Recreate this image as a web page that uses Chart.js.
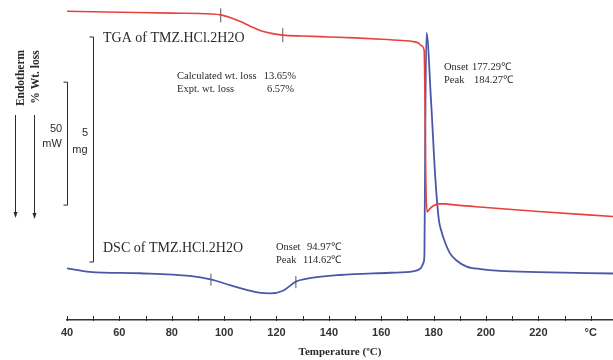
<!DOCTYPE html>
<html><head><meta charset="utf-8">
<script src="https://cdn.jsdelivr.net/npm/chart.js@4.4.1/dist/chart.umd.min.js"></script>
<style>html,body{margin:0;padding:0;background:#fff}canvas{display:block}</style>
</head><body><canvas id="c" width="613" height="360"></canvas>
<script>
// ---- data ----
const tgaTemp = [40, 60, 80, 95, 98.7, 102, 106, 110, 114, 118, 122.4, 130, 140, 150, 160, 168, 172, 174, 175.5, 176.4, 176.7, 177.0, 177.5, 178.5, 180, 182, 184.5, 186, 200, 220, 248.5];
const tgaMass = [6.86, 6.84, 6.82, 6.80, 6.78, 6.73, 6.64, 6.53, 6.43, 6.37, 6.33, 6.31, 6.29, 6.27, 6.24, 6.21, 6.19, 6.16, 6.09, 5.98, 4.90, 3.20, 2.40, 2.47, 2.54, 2.58, 2.58, 2.57, 2.50, 2.41, 2.30]; // mg
const dscTemp = [40, 48.7, 67.8, 86.9, 94.8, 102.2, 109.8, 114, 117.5, 122.5, 127.4, 132.7, 144.2, 163.3, 172.1, 175, 176.2, 176.5, 176.9, 177.3, 179.0, 180.7, 182.0, 183, 184, 186.2, 189, 192.6, 198, 205.3, 220, 248.5];
const dscHeat = [21.0, 19.6, 19.0, 17.9, 16.5, 14.2, 11.9, 11.0, 10.8, 11.9, 15.6, 17.0, 18.3, 19.2, 19.8, 21.0, 23.5, 27, 90, 116.7, 89.4, 56.9, 40.7, 36.0, 32.6, 27.2, 24.0, 21.7, 20.7, 20.0, 19.5, 18.9]; // mW
const tgaMarkTemp = [98.7, 122.4];
const tgaMarkMass = [6.77, 6.33];
const dscMarkTemp = [94.97, 127.4];
const dscMarkHeat = [16.4, 15.4];
const xTickValues = [40, 60, 80, 100, 120, 140, 160, 180, 200, 220, 240];
const xTickLabels = ['40', '60', '80', '100', '120', '140', '160', '180', '200', '220', '°C'];
const xTitle = 'Temperature (ºC)';
const tgaLabel = 'TGA of TMZ.HCl.2H2O';
const dscLabel = 'DSC of TMZ.HCl.2H2O';
const massBar = 5;   // mg
const heatBar = 50;  // mW

const pts = (xs, ys) => xs.map((x, i) => ({x, y: ys[i]}));
const RED = '#e8403c', BLUE = '#4a58a8', INK = '#2a2a2a';
const SERIF = '"Liberation Serif","Times New Roman",serif';
const SANS = '"Liberation Sans",Arial,sans-serif';

const annot = {
  id: 'annot',
  afterDraw(chart) {
    const ctx = chart.ctx, xs = chart.scales.x, yT = chart.scales.yTGA, yD = chart.scales.yDSC;
    ctx.save();
    ctx.strokeStyle = INK; ctx.fillStyle = INK; ctx.lineWidth = 1;
    const seg = (x1, y1, x2, y2) => { ctx.beginPath(); ctx.moveTo(x1, y1); ctx.lineTo(x2, y2); ctx.stroke(); };
    // axis tick marks
    const yb = xs.top;
    for (let v = 40; v <= 240; v += 10) {
      const px = Math.round(xs.getPixelForValue(v)) + 0.5;
      seg(px, yb - 4, px, yb + 1);
    }
    // scale brackets
    const bx1 = 93.5, t1 = yT.getPixelForValue(6.289), b1 = yT.getPixelForValue(6.289 - massBar);
    seg(bx1, t1, bx1, b1); seg(bx1 - 4, t1, bx1, t1); seg(bx1 - 4, b1, bx1, b1);
    const bx2 = 67.5, t2 = yD.getPixelForValue(46.7 + heatBar), b2 = yD.getPixelForValue(46.7);
    seg(bx2, t2, bx2, b2); seg(bx2 - 4, t2, bx2, t2); seg(bx2 - 4, b2, bx2, b2);
    // arrows
    const arrow = (x, y1, y2) => {
      seg(x, y1, x, y2 - 5);
      ctx.beginPath(); ctx.moveTo(x - 2, y2 - 6); ctx.lineTo(x + 2, y2 - 6); ctx.lineTo(x, y2); ctx.closePath(); ctx.fill();
    };
    arrow(15.5, 115, 218);
    arrow(34.5, 115, 219);
    // rotated labels
    ctx.font = 'bold 11.5px ' + SERIF; ctx.textAlign = 'center'; ctx.textBaseline = 'middle';
    ctx.save(); ctx.translate(21, 78); ctx.rotate(-Math.PI / 2); ctx.fillText('Endotherm', 0, 0); ctx.restore();
    ctx.save(); ctx.translate(36.5, 77); ctx.rotate(-Math.PI / 2); ctx.fillText('% Wt. loss', 0, 0); ctx.restore();
    // bracket labels
    ctx.font = '11px ' + SANS;
    ctx.fillText('50', 56, 129); ctx.fillText('mW', 52, 144);
    ctx.fillText('5', 85, 133); ctx.fillText('mg', 80, 150);
    // curve titles
    ctx.textAlign = 'left';
    ctx.font = '14px ' + SERIF;
    ctx.fillText(tgaLabel, 103, 38);
    ctx.fillText(dscLabel, 103, 248);
    ctx.font = '10.5px ' + SERIF;
    ctx.fillText('Calculated wt. loss', 177, 76);
    ctx.fillText('Expt. wt. loss', 177, 89);
    ctx.textAlign = 'right';
    ctx.fillText('13.65%', 296, 76);
    ctx.fillText('6.57%', 294, 89);
    ctx.textAlign = 'left';
    ctx.fillText('Onset', 444, 67); ctx.fillText('177.29℃', 472, 67);
    ctx.fillText('Peak', 444, 80); ctx.fillText('184.27℃', 474, 80);
    ctx.fillText('Onset', 276, 247); ctx.fillText('94.97℃', 307, 247);
    ctx.fillText('Peak', 276, 260); ctx.fillText('114.62℃', 303, 260);
    ctx.restore();
  }
};

new Chart(document.getElementById('c'), {
  type: 'line',
  data: {
    datasets: [
      { data: pts(tgaTemp, tgaMass), yAxisID: 'yTGA', borderColor: RED, borderWidth: 1.6, pointRadius: 0, cubicInterpolationMode: 'monotone' },
      { data: pts(dscTemp, dscHeat), yAxisID: 'yDSC', borderColor: BLUE, borderWidth: 1.8, pointRadius: 0, cubicInterpolationMode: 'monotone' },
      { data: pts(tgaMarkTemp, tgaMarkMass), yAxisID: 'yTGA', showLine: false, pointStyle: 'line', rotation: 90, pointRadius: 7, borderColor: '#555', borderWidth: 1 },
      { data: pts(dscMarkTemp, dscMarkHeat), yAxisID: 'yDSC', showLine: false, pointStyle: 'line', rotation: 90, pointRadius: 6, borderColor: '#555', borderWidth: 1 }
    ]
  },
  options: {
    responsive: false, animation: false,
    layout: { autoPadding: false, padding: { left: 67, right: 0, top: 0, bottom: 0 } },
    plugins: { legend: { display: false }, tooltip: { enabled: false } },
    scales: {
      x: {
        type: 'linear', min: 40, max: 248.5,
        afterBuildTicks: s => { s.ticks = xTickValues.map(v => ({value: v})); },
        afterFit: s => { s.height = 40; },
        ticks: { autoSkip: false, maxRotation: 0, padding: 6, color: '#333', font: { family: SANS, size: 11, weight: 'bold' },
                 callback: (v) => xTickLabels[xTickValues.indexOf(v)] },
        grid: { display: false, drawTicks: false },
        border: { display: true, color: '#333', width: 1.5 },
        title: { display: true, text: xTitle, color: INK, font: { family: SERIF, size: 11, weight: 'bold' }, padding: { top: 4, bottom: 1 } }
      },
      yTGA: { display: false, min: 0, max: 320 / 45 },
      yDSC: { display: false, min: 0, max: 320 / 2.46 }
    }
  },
  plugins: [annot]
});
</script></body></html>
